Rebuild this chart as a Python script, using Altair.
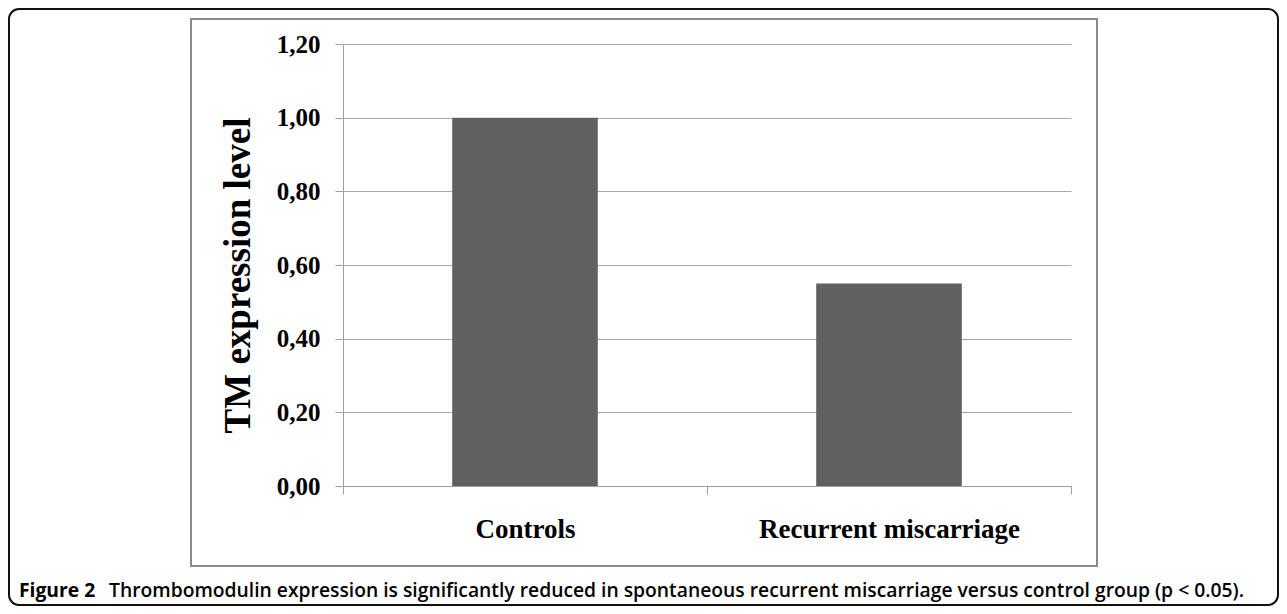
import altair as alt
import pandas as pd

categories = ["Controls", "Recurrent miscarriage"]
values = [1.00, 0.55]
y_ticks = [0.0, 0.2, 0.4, 0.6, 0.8, 1.0, 1.2]
y_title = "TM expression level"
caption_bold = ["Figure 2"]
caption_rest = ["Thrombomodulin expression is significantly reduced in spontaneous recurrent miscarriage versus control group (p < 0.05)."]

W, H = 728, 442
PAD = {"left": 335, "top": 36, "right": 208, "bottom": 120}

bars_df = pd.DataFrame({"cat": categories, "val": values})
one = pd.DataFrame({"a": [0]})

outer = alt.Chart(one).mark_rect(
    fillOpacity=0, stroke="#111111", strokeWidth=2, cornerRadius=10
).encode(
    x=alt.value(-334), x2=alt.value(W + PAD["right"] - 1),
    y=alt.value(-35), y2=alt.value(H + PAD["bottom"] - 1),
)

inner = alt.Chart(one).mark_rect(
    fillOpacity=0, stroke="#8a8a8a", strokeWidth=2
).encode(
    x=alt.value(-152), x2=alt.value(754),
    y=alt.value(-25), y2=alt.value(522),
)

bars = alt.Chart(bars_df).mark_bar(
    color="#606060", width=alt.RelativeBandSize(0.4)
).encode(
    x=alt.X(
        "cat:N", sort=categories, title=None,
        scale=alt.Scale(paddingInner=0, paddingOuter=0),
        axis=alt.Axis(
            labelAngle=0, labelFont="Liberation Serif", labelFontWeight="bold",
            labelFontSize=27, labelColor="#000000", labelPadding=22,
            labelLimit=500,
            tickBand="extent", tickSize=8, tickColor="#a0a0a0",
            domainColor="#a0a0a0", labelBaseline="top",
        ),
    ),
    y=alt.Y(
        "val:Q", title=y_title,
        scale=alt.Scale(domain=[0, 1.2], nice=False, zero=True),
        axis=alt.Axis(
            values=y_ticks,
            labelExpr="replace(format(datum.value, '.2f'), '.', ',')",
            labelFont="Liberation Serif", labelFontWeight="bold",
            labelFontSize=25, labelColor="#000000", labelPadding=15,
            tickSize=8, tickColor="#a0a0a0", domainColor="#a0a0a0",
            gridColor="#a8a8a8", grid=True,
            titleFont="Liberation Serif", titleFontWeight="bold",
            titleFontSize=37, titleColor="#000000", titleAngle=270,
            titleX=-94, titleY=231, titleAlign="center",
            titleBaseline="alphabetic", titleLimit=500,
        ),
    ),
)

cap1 = alt.Chart(pd.DataFrame({"t": caption_bold})).mark_text(
    font="Open Sans", fontWeight="bold", fontSize=19.3, align="left",
    baseline="alphabetic", color="#000000",
).encode(text="t:N", x=alt.value(-324), y=alt.value(553))

cap2 = alt.Chart(pd.DataFrame({"t": caption_rest})).mark_text(
    font="Open Sans", fontWeight=600, fontSize=19.3, align="left",
    baseline="alphabetic", color="#000000",
).encode(text="t:N", x=alt.value(-234), y=alt.value(553))

chart = alt.layer(outer, inner, bars, cap1, cap2).properties(
    width=W, height=H, padding=PAD,
    autosize=alt.AutoSizeParams(type="none"),
    background="white",
).configure_view(stroke=None)

chart.save("out.html", embed_options={"renderer": "svg", "actions": False})
